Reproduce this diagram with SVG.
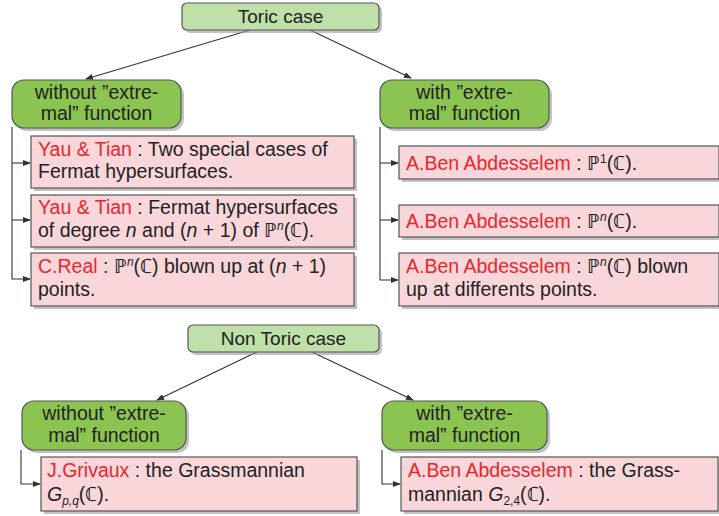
<svg xmlns="http://www.w3.org/2000/svg" width="719" height="516" viewBox="0 0 719 516">
<defs>
<style>
text{font-family:"Liberation Sans",Arial,sans-serif;font-size:19.5px;fill:#222}
.c{text-anchor:middle}
.t{font-size:19px}
.r{fill:#e8262c}
.i{font-style:italic}
.s{font-size:12px}
.sh{fill:#9a9a9a;opacity:0.6}
.top{fill:#bfe0a8;stroke:#555;stroke-width:1.2}
.grn{fill:#8cc451;stroke:#555;stroke-width:1.2}
.pk{fill:#f9d6da;stroke:#555;stroke-width:1.2}
.ln{fill:none;stroke:#333;stroke-width:1.1}
</style>
<marker id="a" markerWidth="8" markerHeight="6" refX="7" refY="3" orient="auto" markerUnits="userSpaceOnUse">
<path d="M0,0 L8,3 L0,6 Z" fill="#333"/>
</marker>
</defs>

<g id="connectors">
<line class="ln" x1="250" y1="30" x2="86" y2="79" marker-end="url(#a)"/>
<line class="ln" x1="310" y1="30" x2="411" y2="78" marker-end="url(#a)"/>
<polyline class="ln" points="12,127 12,279 30,279" marker-end="url(#a)"/>
<line class="ln" x1="12" y1="163" x2="30" y2="163" marker-end="url(#a)"/>
<line class="ln" x1="12" y1="220" x2="30" y2="220" marker-end="url(#a)"/>
<polyline class="ln" points="380,127 380,280 398,280" marker-end="url(#a)"/>
<line class="ln" x1="380" y1="163" x2="398" y2="163" marker-end="url(#a)"/>
<line class="ln" x1="380" y1="220" x2="398" y2="220" marker-end="url(#a)"/>
<line class="ln" x1="257" y1="352" x2="157" y2="400" marker-end="url(#a)"/>
<line class="ln" x1="312" y1="352" x2="413" y2="400" marker-end="url(#a)"/>
<polyline class="ln" points="21,450 21,484 40,484" marker-end="url(#a)"/>
<polyline class="ln" points="382,450 382,484 400,484" marker-end="url(#a)"/>
</g>

<g id="toric">
<rect class="sh" x="185" y="6" width="197" height="27" rx="5"/>
<rect class="top" x="182" y="3" width="197" height="27" rx="5"/>
<text class="c t" x="280.5" y="23">Toric case</text>
</g>

<g id="toric-without">
<rect class="sh" x="15" y="83" width="169" height="48" rx="12"/>
<rect class="grn" x="12" y="80" width="169" height="48" rx="12"/>
<text class="c" x="96.5" y="99">without ”extre-</text>
<text class="c" x="96.5" y="120">mal” function</text>
</g>

<g id="toric-with">
<rect class="sh" x="383" y="83" width="169" height="48" rx="12"/>
<rect class="grn" x="380" y="80" width="169" height="48" rx="12"/>
<text class="c" x="464.5" y="99">with ”extre-</text>
<text class="c" x="464.5" y="120">mal” function</text>
</g>

<g id="yau1">
<rect class="sh" x="34" y="139" width="323" height="52"/>
<rect class="pk" x="31" y="136" width="323" height="52"/>
<text x="38" y="156"><tspan class="r">Yau &amp; Tian</tspan> : Two special cases of</text>
<text x="38" y="178">Fermat hypersurfaces.</text>
</g>

<g id="yau2">
<rect class="sh" x="34" y="198" width="323" height="52"/>
<rect class="pk" x="31" y="195" width="323" height="52"/>
<text x="38" y="214"><tspan class="r">Yau &amp; Tian</tspan> : Fermat hypersurfaces</text>
<text x="38" y="237">of degree <tspan class="i">n</tspan> and (<tspan class="i">n</tspan> + 1) of ℙ<tspan class="i s" dy="-7">n</tspan><tspan dy="7">(ℂ).</tspan></text>
</g>

<g id="real">
<rect class="sh" x="34" y="256" width="323" height="53"/>
<rect class="pk" x="31" y="253" width="323" height="53"/>
<text x="38" y="273"><tspan class="r">C.Real</tspan> : ℙ<tspan class="i s" dy="-7">n</tspan><tspan dy="7">(ℂ) blown up at (</tspan><tspan class="i">n</tspan> + 1)</text>
<text x="38" y="296">points.</text>
</g>

<g id="ben1">
<rect class="sh" x="402" y="149" width="320" height="33"/>
<rect class="pk" x="399" y="146" width="320" height="33"/>
<text x="406" y="170"><tspan class="r">A.Ben Abdesselem</tspan> : ℙ<tspan class="s" dy="-7">1</tspan><tspan dy="7">(ℂ).</tspan></text>
</g>

<g id="ben2">
<rect class="sh" x="402" y="208" width="320" height="32"/>
<rect class="pk" x="399" y="205" width="320" height="32"/>
<text x="406" y="228"><tspan class="r">A.Ben Abdesselem</tspan> : ℙ<tspan class="i s" dy="-7">n</tspan><tspan dy="7">(ℂ).</tspan></text>
</g>

<g id="ben3">
<rect class="sh" x="402" y="256" width="320" height="53"/>
<rect class="pk" x="399" y="253" width="320" height="53"/>
<text x="406" y="273"><tspan class="r">A.Ben Abdesselem</tspan> : ℙ<tspan class="i s" dy="-7">n</tspan><tspan dy="7">(ℂ) blown</tspan></text>
<text x="406" y="296">up at differents points.</text>
</g>

<g id="nontoric">
<rect class="sh" x="191" y="328" width="191" height="27" rx="5"/>
<rect class="top" x="188" y="325" width="191" height="27" rx="5"/>
<text class="c t" x="283.5" y="345">Non Toric case</text>
</g>

<g id="nontoric-without">
<rect class="sh" x="25" y="404" width="164" height="49" rx="12"/>
<rect class="grn" x="22" y="401" width="164" height="49" rx="12"/>
<text class="c" x="104" y="420">without ”extre-</text>
<text class="c" x="104" y="442">mal” function</text>
</g>

<g id="nontoric-with">
<rect class="sh" x="385" y="404" width="165" height="49" rx="12"/>
<rect class="grn" x="382" y="401" width="165" height="49" rx="12"/>
<text class="c" x="464.5" y="420">with ”extre-</text>
<text class="c" x="464.5" y="442">mal” function</text>
</g>

<g id="grivaux">
<rect class="sh" x="44" y="460" width="316" height="54"/>
<rect class="pk" x="41" y="457" width="316" height="54"/>
<text x="47" y="477"><tspan class="r">J.Grivaux</tspan> : the Grassmannian</text>
<text x="47" y="501"><tspan class="i">G</tspan><tspan class="i s" dy="4">p,q</tspan><tspan dy="-4">(ℂ).</tspan></text>
</g>

<g id="ben4">
<rect class="sh" x="404" y="460" width="317" height="54"/>
<rect class="pk" x="401" y="457" width="317" height="54"/>
<text x="408" y="477"><tspan class="r">A.Ben Abdesselem</tspan> : the Grass-</text>
<text x="408" y="501">mannian <tspan class="i">G</tspan><tspan class="s" dy="4">2,4</tspan><tspan dy="-4">(ℂ).</tspan></text>
</g>
</svg>
